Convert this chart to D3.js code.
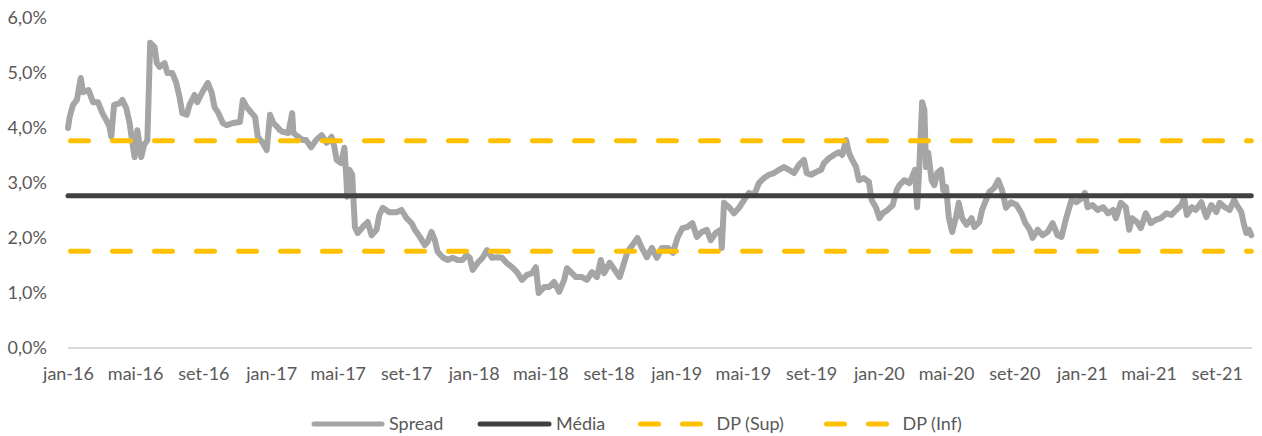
<!DOCTYPE html>
<html><head><meta charset="utf-8">
<script src="https://cdn.jsdelivr.net/npm/d3@7"></script>
<style>
body{margin:0;background:#fff}
svg{display:block}
text{font-family:Lato,"Open Sans",sans-serif;fill:#595959;font-size:18px}
</style>
</head><body>
<svg id="chart" width="1262" height="436"></svg>
<script>
// ---------------- DATA ----------------
const spreadDates = [
"2016-01-01","2016-01-04","2016-01-10","2016-01-17","2016-01-24","2016-01-28","2016-02-07","2016-02-15","2016-02-24","2016-03-03",
"2016-03-15","2016-03-19","2016-03-24","2016-04-03","2016-04-08","2016-04-15","2016-04-21","2016-04-26","2016-04-30","2016-05-05",
"2016-05-12","2016-05-17","2016-05-23","2016-05-28","2016-06-05","2016-06-09","2016-06-14","2016-06-23","2016-06-28","2016-07-07",
"2016-07-14","2016-07-20","2016-07-25","2016-08-02","2016-08-07","2016-08-16","2016-08-21","2016-08-30","2016-09-09","2016-09-16",
"2016-09-21","2016-09-27","2016-10-06","2016-10-13","2016-10-24","2016-11-06","2016-11-11","2016-11-18","2016-11-27","2016-12-03",
"2016-12-08","2016-12-17","2016-12-24","2016-12-30",
"2017-01-05","2017-01-12","2017-01-17","2017-01-22","2017-02-01","2017-02-08","2017-02-10","2017-02-19","2017-02-27","2017-03-05",
"2017-03-14","2017-03-23","2017-04-02","2017-04-11","2017-04-20","2017-04-25","2017-04-29","2017-05-07","2017-05-13","2017-05-17",
"2017-05-18","2017-05-22","2017-05-27","2017-06-01","2017-06-06","2017-06-15","2017-06-24","2017-07-01","2017-07-10","2017-07-15",
"2017-07-21","2017-08-02","2017-08-15","2017-08-24","2017-09-02","2017-09-11","2017-09-17","2017-09-26","2017-10-05","2017-10-10",
"2017-10-17","2017-10-23","2017-10-28","2017-11-06","2017-11-15","2017-11-24","2017-12-03","2017-12-12","2017-12-19","2017-12-25",
"2017-12-30",
"2018-01-09","2018-01-17","2018-01-25","2018-02-03","2018-02-12","2018-02-21","2018-03-01","2018-03-11","2018-03-20","2018-03-29",
"2018-04-07","2018-04-16","2018-04-23","2018-04-28","2018-05-08","2018-05-17","2018-05-26","2018-06-04","2018-06-13","2018-06-18",
"2018-06-27","2018-07-04","2018-07-15","2018-07-24","2018-08-02","2018-08-11","2018-08-18","2018-08-24","2018-09-03","2018-09-12",
"2018-09-21","2018-09-26","2018-10-05","2018-10-14","2018-10-23","2018-10-30","2018-11-09","2018-11-18","2018-11-27","2018-12-06",
"2018-12-17","2018-12-26",
"2019-01-03","2019-01-12","2019-01-21","2019-01-30","2019-02-07","2019-02-16","2019-02-25","2019-03-04","2019-03-13","2019-03-22",
"2019-03-24","2019-03-28","2019-04-06","2019-04-15","2019-04-24","2019-05-03","2019-05-12","2019-05-21","2019-05-30","2019-06-08",
"2019-06-17","2019-06-26","2019-07-05","2019-07-14","2019-07-23","2019-08-01","2019-08-10","2019-08-19","2019-08-24","2019-09-01",
"2019-09-10","2019-09-19","2019-09-24","2019-10-03","2019-10-12","2019-10-21","2019-10-27","2019-11-03","2019-11-08","2019-11-14",
"2019-11-21","2019-11-26","2019-12-05","2019-12-14","2019-12-19","2019-12-27",
"2020-01-02","2020-01-08","2020-01-17","2020-01-26","2020-02-02","2020-02-07","2020-02-16","2020-02-25","2020-03-01","2020-03-06",
"2020-03-10","2020-03-13","2020-03-19","2020-03-23","2020-03-26","2020-03-30","2020-04-05","2020-04-10","2020-04-15","2020-04-22",
"2020-04-26","2020-05-01","2020-05-06","2020-05-12","2020-05-19","2020-05-24","2020-05-30","2020-06-07","2020-06-16","2020-06-21",
"2020-06-30","2020-07-05","2020-07-12","2020-07-18","2020-07-27","2020-08-03","2020-08-10","2020-08-17","2020-08-26","2020-09-05",
"2020-09-14","2020-09-20","2020-09-29","2020-10-04","2020-10-13","2020-10-22","2020-10-31","2020-11-09","2020-11-18","2020-11-25",
"2020-12-04","2020-12-13","2020-12-22",
"2021-01-01","2021-01-06","2021-01-11","2021-01-20","2021-01-29","2021-02-08","2021-02-17","2021-02-26","2021-03-03","2021-03-12",
"2021-03-21","2021-03-27","2021-04-01","2021-04-10","2021-04-17","2021-04-26","2021-05-05","2021-05-14","2021-05-23","2021-06-02",
"2021-06-11","2021-06-20","2021-06-29","2021-07-04","2021-07-09","2021-07-18","2021-07-25","2021-08-04","2021-08-13","2021-08-22",
"2021-08-31","2021-09-06","2021-09-15","2021-09-24","2021-10-02","2021-10-07","2021-10-15","2021-10-20","2021-10-24","2021-10-29",
"2021-11-02"
];
const spreadValues = [
4.00,4.20,4.42,4.51,4.91,4.65,4.69,4.47,4.47,4.27,
4.05,3.84,4.42,4.45,4.51,4.36,4.09,3.73,3.47,3.96,
3.47,3.69,3.78,5.55,5.47,5.18,5.11,5.18,5.00,5.00,
4.82,4.56,4.27,4.24,4.42,4.60,4.47,4.65,4.82,4.64,
4.38,4.29,4.09,4.05,4.09,4.11,4.51,4.38,4.27,4.20,
3.84,3.73,3.60,4.24,
4.09,4.02,3.96,3.93,3.91,4.27,3.91,3.84,3.78,3.78,
3.65,3.78,3.87,3.73,3.84,3.65,3.42,3.36,3.64,3.00,
2.75,3.24,3.15,2.20,2.09,2.20,2.29,2.05,2.15,2.42,
2.55,2.47,2.47,2.51,2.36,2.27,2.15,2.02,1.87,1.93,
2.11,1.96,1.75,1.65,1.60,1.64,1.60,1.60,1.69,1.64,
1.42,
1.56,1.64,1.78,1.64,1.65,1.64,1.55,1.47,1.38,1.24,
1.33,1.36,1.47,1.00,1.11,1.11,1.20,1.02,1.24,1.45,
1.36,1.29,1.29,1.24,1.38,1.29,1.60,1.36,1.55,1.42,
1.29,1.45,1.75,1.87,2.00,1.84,1.65,1.82,1.64,1.82,
1.82,1.73,
2.00,2.18,2.20,2.27,2.02,2.11,2.15,1.96,2.09,2.15,
1.82,2.64,2.56,2.45,2.55,2.69,2.82,2.78,3.00,3.09,
3.15,3.18,3.24,3.29,3.24,3.18,3.33,3.42,3.18,3.15,
3.20,3.24,3.36,3.45,3.51,3.56,3.51,3.78,3.55,3.42,
3.29,3.05,3.09,3.02,2.69,2.55,
2.36,2.45,2.51,2.60,2.87,2.96,3.05,3.00,3.11,3.24,
2.56,3.11,4.47,4.33,3.29,3.55,3.05,2.96,3.18,3.24,
2.87,2.93,2.38,2.11,2.38,2.64,2.36,2.24,2.36,2.20,
2.29,2.51,2.69,2.84,2.91,3.05,2.87,2.55,2.65,2.60,
2.45,2.29,2.15,2.00,2.15,2.05,2.11,2.27,2.05,2.02,
2.38,2.69,2.65,
2.73,2.82,2.56,2.60,2.51,2.56,2.45,2.51,2.36,2.64,
2.56,2.15,2.36,2.29,2.18,2.45,2.27,2.33,2.36,2.45,
2.42,2.51,2.60,2.73,2.42,2.56,2.51,2.65,2.38,2.60,
2.47,2.64,2.56,2.51,2.69,2.60,2.47,2.24,2.09,2.15,
2.05
];
const mediaValue = 2.77;
const dpSupValue = 3.77;
const dpInfValue = 1.76;
const yTickValues = [0, 1, 2, 3, 4, 5, 6];
const xTickLabels = ["jan-16","mai-16","set-16","jan-17","mai-17","set-17","jan-18","mai-18","set-18",
  "jan-19","mai-19","set-19","jan-20","mai-20","set-20","jan-21","mai-21","set-21"];
const legendLabels = ["Spread","Média","DP (Sup)","DP (Inf)"];

// ---------------- LAYOUT ----------------
const colors = {spread:"#A5A5A5", media:"#404040", dp:"#FFC000", axis:"#D9D9D9"};
const parse = d3.timeParse("%Y-%m-%d");
const data = spreadDates.map((d, i) => ({date: parse(d), value: spreadValues[i]}));
const tickDates = xTickLabels.map((_, i) => new Date(2016, i * 4, 1));

const svg = d3.select("#chart");
const x = d3.scaleTime().domain([new Date(2016,0,1), new Date(2021,0,1)]).range([68, 1082]);
const y = d3.scaleLinear().domain([0, 6]).range([348, 18]);

const x0 = x(data[0].date), x1 = x(data[data.length-1].date);

// baseline axis line
svg.append("line").attr("x1", x0).attr("x2", x1 + 1).attr("y1", y(0)).attr("y2", y(0))
  .attr("stroke", colors.axis).attr("stroke-width", 2);

// y axis labels
const yAxis = d3.axisLeft(y).tickValues(yTickValues).tickSize(0).tickPadding(21)
  .tickFormat(d => d3.format(".1f")(d).replace(".", ",") + "%");
svg.append("g").attr("transform", `translate(${x0},0)`).call(yAxis)
  .call(g => g.select(".domain").remove())
  .selectAll("text").style("font-family", "Lato").style("font-size", "18px").attr("fill", "#595959");

// x axis labels
const xAxis = d3.axisBottom(x).tickValues(tickDates).tickSize(0).tickPadding(19)
  .tickFormat((d, i) => xTickLabels[i]);
svg.append("g").attr("transform", `translate(0,${y(0)})`).call(xAxis)
  .call(g => g.select(".domain").remove())
  .selectAll("text").style("font-family", "Lato").style("font-size", "18px").attr("fill", "#595959");

// spread line
const line = d3.line().x(d => x(d.date)).y(d => y(d.value));
svg.append("path").datum(data).attr("d", line).attr("fill", "none")
  .attr("stroke", colors.spread).attr("stroke-width", 6)
  .attr("stroke-linejoin", "round").attr("stroke-linecap", "round");

// mean line
svg.append("line").attr("x1", x0).attr("x2", x1).attr("y1", y(mediaValue)).attr("y2", y(mediaValue))
  .attr("stroke", colors.media).attr("stroke-width", 5).attr("stroke-linecap", "round");

// DP lines
[dpSupValue, dpInfValue].forEach(v => {
  svg.append("line").attr("x1", x0 + 2.5).attr("x2", x1).attr("y1", y(v)).attr("y2", y(v))
    .attr("stroke", colors.dp).attr("stroke-width", 5).attr("stroke-linecap", "round")
    .attr("stroke-dasharray", "18,24");
});

// legend
const legendY = 424;
const legendItems = [
  {label: legendLabels[0], x: 314, len: 68, color: colors.spread, dash: null},
  {label: legendLabels[1], x: 480, len: 69, color: colors.media, dash: null},
  {label: legendLabels[2], x: 640.5, len: 62, color: colors.dp, dash: "18,24"},
  {label: legendLabels[3], x: 826.5, len: 62, color: colors.dp, dash: "18,24"}
];
const lg = svg.append("g");
legendItems.forEach(it => {
  const l = lg.append("line").attr("x1", it.x).attr("x2", it.x + it.len)
    .attr("y1", legendY).attr("y2", legendY)
    .attr("stroke", it.color).attr("stroke-width", 5).attr("stroke-linecap", "round");
  if (it.dash) l.attr("stroke-dasharray", it.dash);
  lg.append("text").attr("x", it.x + it.len + (it.dash ? 14 : 7)).attr("y", legendY).attr("dy", "0.35em")
    .text(it.label);
});
</script>
</body></html>
